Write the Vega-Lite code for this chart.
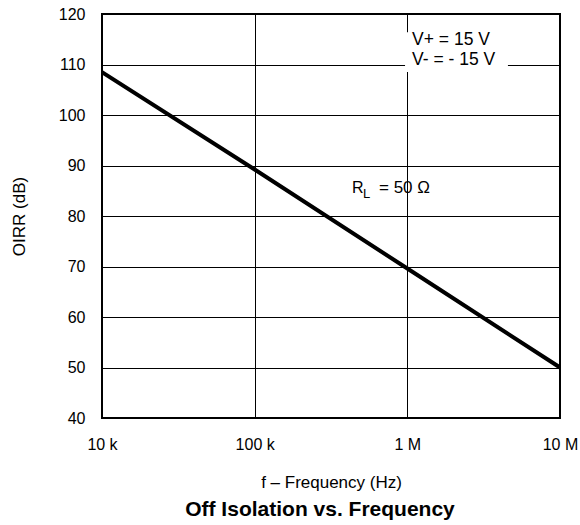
{
  "$schema": "https://vega.github.io/schema/vega-lite/v6.json",
  "width": 458,
  "height": 404,
  "autosize": "none",
  "padding": {"left": 102, "top": 14, "right": 20, "bottom": 107},
  "background": "white",
  "config": {
    "font": "Liberation Sans",
    "view": {"stroke": "black", "strokeWidth": 2}
  },
  "title": {
    "text": "Off Isolation vs. Frequency",
    "orient": "bottom",
    "fontSize": 21,
    "fontWeight": "bold",
    "color": "black",
    "offset": 9,
    "dx": -11,
    "font": "Liberation Sans"
  },
  "datasets": {
    "curve": [
      {"f": 10000, "oirr": 108.5},
      {"f": 100000, "oirr": 89.2},
      {"f": 1000000, "oirr": 69.6},
      {"f": 10000000, "oirr": 50}
    ],
    "box": [{"f1": 966000, "f2": 4560000, "y1": 108.5, "y2": 116.4}],
    "cond": [
      {"f": 1074000, "oirr": 114.85, "label": "V+ = 15 V"},
      {"f": 1074000, "oirr": 110.9, "label": "V- = - 15 V"}
    ],
    "rl": [{"f": 434000, "oirr": 85.6}]
  },
  "encoding": {
    "x": {
      "field": "f",
      "type": "quantitative",
      "scale": {"type": "log", "domain": [10000, 10000000]},
      "axis": {
        "values": [10000, 100000, 1000000, 10000000],
        "labelExpr": "datum.value == 10000 ? '10 k' : datum.value == 100000 ? '100 k' : datum.value == 1000000 ? '1 M' : '10 M'",
        "grid": true,
        "gridColor": "black",
        "gridOpacity": 1,
        "gridWidth": 1,
        "ticks": false,
        "domain": false,
        "labelFlush": false,
        "labelOverlap": false,
        "labelPadding": 18,
        "labelFontSize": 16,
        "labelColor": "black",
        "title": "f – Frequency (Hz)",
        "titleFontSize": 17,
        "titleFontWeight": "normal",
        "titleColor": "black",
        "titlePadding": 22
      }
    },
    "y": {
      "field": "oirr",
      "type": "quantitative",
      "scale": {"domain": [40, 120], "nice": false},
      "axis": {
        "values": [40, 50, 60, 70, 80, 90, 100, 110, 120],
        "grid": true,
        "gridColor": "black",
        "gridOpacity": 1,
        "gridWidth": 1,
        "ticks": false,
        "domain": false,
        "labelPadding": 17,
        "labelFontSize": 16,
        "labelColor": "black",
        "title": "OIRR (dB)",
        "titleFontSize": 17,
        "titleFontWeight": "normal",
        "titleColor": "black",
        "titlePadding": 30
      }
    }
  },
  "layer": [
    {
      "data": {"name": "box"},
      "mark": {"type": "rect", "fill": "white"},
      "encoding": {
        "x": {"field": "f1", "type": "quantitative"},
        "x2": {"field": "f2"},
        "y": {"field": "y1", "type": "quantitative"},
        "y2": {"field": "y2"}
      }
    },
    {
      "data": {"name": "curve"},
      "mark": {"type": "line", "color": "black", "strokeWidth": 4, "clip": true}
    },
    {
      "data": {"name": "cond"},
      "mark": {"type": "text", "align": "left", "baseline": "middle", "fontSize": 17.5, "color": "black"},
      "encoding": {"text": {"field": "label"}}
    },
    {
      "data": {"name": "rl"},
      "mark": {"type": "text", "align": "left", "baseline": "middle", "fontSize": 16, "color": "black", "text": "R"},
      "encoding": {}
    },
    {
      "data": {"name": "rl"},
      "mark": {"type": "text", "align": "left", "baseline": "middle", "fontSize": 13, "color": "black", "text": "L", "dx": 11, "dy": 6},
      "encoding": {}
    },
    {
      "data": {"name": "rl"},
      "mark": {"type": "text", "align": "left", "baseline": "middle", "fontSize": 17, "color": "black", "text": "= 50 Ω", "dx": 27},
      "encoding": {}
    }
  ]
}
